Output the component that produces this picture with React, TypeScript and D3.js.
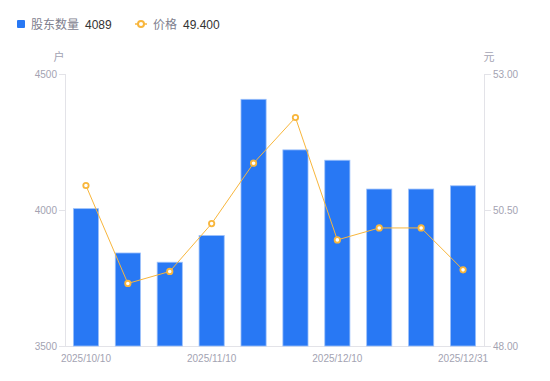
import React from "react";
import * as d3 from "d3";

const categories = [
  "2025/10/10", "2025/10/20", "2025/10/31", "2025/11/10", "2025/11/20",
  "2025/11/30", "2025/12/10", "2025/12/19", "2025/12/26", "2025/12/31",
];
const holders = [4005, 3842, 3808, 3906, 4407, 4221, 4183, 4077, 4077, 4089];
const prices = [50.95, 49.15, 49.37, 50.25, 51.36, 52.2, 49.95, 50.17, 50.17, 49.4];
const leftTicks = [3500, 4000, 4500];
const rightTicks = [48, 50.5, 53];
const shownLabels = ["2025/10/10", "2025/11/10", "2025/12/10", "2025/12/31"];

const W = 550, H = 381;
const M = { left: 65, right: 484, top: 74, bottom: 346 };
const FONT = "'Liberation Sans', 'Noto Sans CJK SC', sans-serif";
const BLUE = "#2878f4";
const ORANGE = "#f8b63c";
const AXIS = "#e3e3e8";
const TXT = "#a3a3b2";

export default function App() {
  const x = d3.scaleBand<string>().domain(categories).range([M.left, M.right]).paddingInner(0.4).paddingOuter(0.2);
  const xc = d3.scaleBand<string>().domain(categories).range([M.left, M.right]);
  const yL = d3.scaleLinear().domain([3500, 4500]).range([M.bottom, M.top]);
  const yR = d3.scaleLinear().domain([48, 53]).range([M.bottom, M.top]);
  const cx = (c: string) => (xc(c) as number) + xc.bandwidth() / 2;
  const line = d3.line<number>().x((_, i) => cx(categories[i])).y((d) => yR(d));

  return (
    <svg width={W} height={H} style={{ position: "absolute", left: 0, top: 0, fontFamily: FONT }}>
      <rect width={W} height={H} fill="#fff" />
      {/* legend */}
      <rect x={17} y={20} width={8} height={8} rx={1} fill={BLUE} />
      <text x={31} y={28.5} fontSize={12} fill="#80808e">股东数量</text>
      <text x={85} y={28.5} fontSize={12} fill="#333">{holders[holders.length - 1]}</text>
      <line x1={135} x2={147} y1={24} y2={24} stroke={ORANGE} strokeWidth={1.5} />
      <circle cx={141} cy={24} r={3} fill="#fff" stroke={ORANGE} strokeWidth={2} />
      <text x={153} y={28.5} fontSize={12} fill="#80808e">价格</text>
      <text x={183} y={28.5} fontSize={12} fill="#333">{prices[prices.length - 1].toFixed(3)}</text>

      {/* unit labels */}
      <text x={59} y={61} fontSize={11} fill={TXT} textAnchor="middle">户</text>
      <text x={489} y={61} fontSize={11} fill={TXT} textAnchor="middle">元</text>

      {/* axes */}
      <line x1={M.left + 0.5} x2={M.left + 0.5} y1={M.top} y2={M.bottom} stroke={AXIS} />
      <line x1={M.right + 0.5} x2={M.right + 0.5} y1={M.top} y2={M.bottom} stroke={AXIS} />
      <line x1={M.left} x2={M.right + 1} y1={M.bottom + 0.5} y2={M.bottom + 0.5} stroke={AXIS} />
      {leftTicks.map((t) => (
        <g key={"l" + t}>
          <line x1={M.left - 6} x2={M.left} y1={yL(t) + 0.5} y2={yL(t) + 0.5} stroke={AXIS} />
          <text x={M.left - 8} y={yL(t) + 3.5} fontSize={10} fill={TXT} textAnchor="end">{t}</text>
        </g>
      ))}
      {rightTicks.map((t) => (
        <g key={"r" + t}>
          <line x1={M.right + 1} x2={M.right + 7} y1={yR(t) + 0.5} y2={yR(t) + 0.5} stroke={AXIS} />
          <text x={M.right + 9} y={yR(t) + 3.5} fontSize={10} fill={TXT}>{t.toFixed(2)}</text>
        </g>
      ))}
      {shownLabels.map((c) => (
        <text key={c} x={cx(c)} y={361.5} fontSize={10} fill={TXT} textAnchor="middle">{c}</text>
      ))}

      {/* bars */}
      {holders.map((v, i) => {
        const c = categories[i];
        return (
          <rect key={c} x={x(c)} y={yL(v)} width={x.bandwidth()} height={M.bottom - yL(v)}
            fill={BLUE} stroke="#9cc0fa" strokeWidth={0.8} />
        );
      })}

      {/* line */}
      <path d={line(prices) || ""} fill="none" stroke={ORANGE} strokeWidth={1} />
      {prices.map((v, i) => (
        <circle key={i} cx={cx(categories[i])} cy={yR(v)} r={2.7} fill="#fff" stroke={ORANGE} strokeWidth={1.8} />
      ))}
    </svg>
  );
}
